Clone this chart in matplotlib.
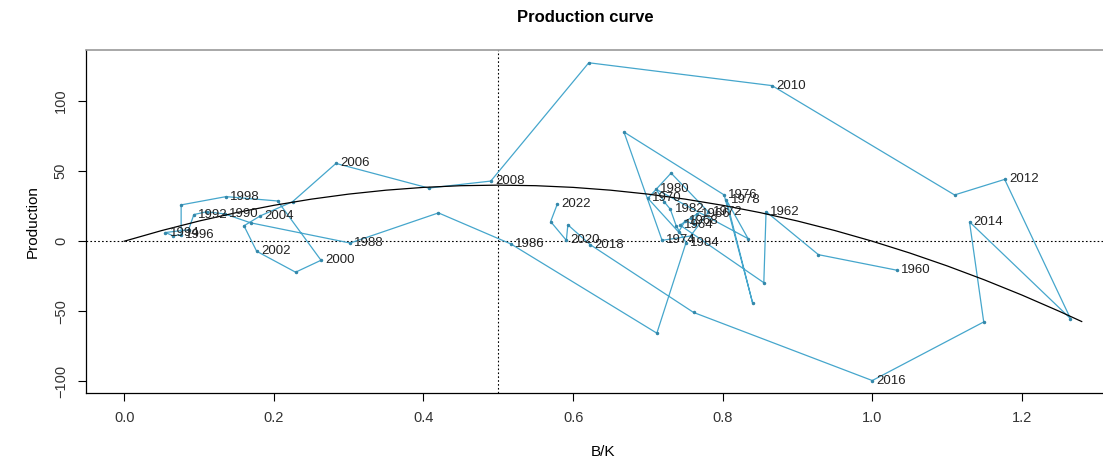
import matplotlib
matplotlib.use('Agg')
import matplotlib.pyplot as plt

plt.rcParams['font.family'] = ['Liberation Sans', 'DejaVu Sans']

years = list(range(1960, 2023))
bk = [1.033, 0.928, 0.858, 0.855, 0.743, 0.757, 0.766, 0.761, 0.750, 0.741,
      0.700, 0.731, 0.781, 0.757, 0.719, 0.668, 0.802, 0.840, 0.805, 0.834,
      0.711, 0.722, 0.730, 0.738, 0.751, 0.712, 0.517, 0.420, 0.302, 0.169,
      0.134, 0.110, 0.093, 0.086, 0.055, 0.065, 0.076, 0.076, 0.136, 0.205,
      0.263, 0.229, 0.177, 0.160, 0.182, 0.225, 0.283, 0.407, 0.490, 0.621,
      0.866, 1.110, 1.177, 1.265, 1.130, 1.149, 1.000, 0.761, 0.623, 0.593,
      0.591, 0.570, 0.579]
prod = [-20.7, -9.6, 21.1, -29.6, 11.5, 16.5, 19.5, 12.3, 14.5, 6.6,
        30.6, 48.6, 20.8, 3.7, 0.6, 77.9, 33.0, -44.0, 29.4, 1.8,
        37.0, 28.0, 22.8, 10.8, -1.1, -65.6, -2.0, 20.2, -1.3, 13.1,
        19.5, 21.0, 19.0, 8.2, 6.2, 3.9, 4.6, 25.9, 31.8, 28.7,
        -13.6, -22.1, -7.2, 11.0, 18.1, 28.2, 55.5, 37.9, 42.9, 127.3,
        111.0, 33.0, 44.1, -55.2, 13.8, -57.6, -99.4, -50.8, -2.5, 11.7,
        0.6, 14.0, 26.6]

curve_x = [0.00, 0.05, 0.10, 0.15, 0.20, 0.25, 0.30, 0.35, 0.40, 0.45,
           0.50, 0.55, 0.60, 0.65, 0.70, 0.75, 0.80, 0.85, 0.90, 0.95,
           1.00, 1.05, 1.10, 1.15, 1.20, 1.25, 1.28]
curve_y = [0.0, 7.6, 14.4, 20.4, 25.6, 30.0, 33.6, 36.4, 38.4, 39.6,
           40.0, 39.6, 38.4, 36.4, 33.6, 30.0, 25.6, 20.4, 14.4, 7.6,
           0.0, -8.4, -17.6, -27.6, -38.4, -50.0, -57.3]

W, H = 1103, 466
fig = plt.figure(figsize=(W / 100, H / 100), dpi=100)
left, right, top, bottom = 86, 1120, 50, 393.3
ax = fig.add_axes([left / W, (H - bottom) / H, (right - left) / W, (bottom - top) / H])

line_col = '#45a6cc'
ax.plot(bk, prod, color=line_col, lw=0.9, zorder=2)
ax.plot(bk, prod, 'o', color='#3488aa', ms=1.5, zorder=3)
ax.plot(curve_x, curve_y, color='black', lw=0.9, zorder=4)

ax.axhline(0, color='black', lw=0.8, ls=(0, (1.5, 2)), zorder=1)
ax.axvline(0.5, color='black', lw=0.8, ls=(0, (1.5, 2)), zorder=1)

# year labels on even years, to the right of the point
for yr, x, y in zip(years, bk, prod):
    if yr % 2 == 0:
        ax.annotate(str(yr), (x, y), xytext=(3, 0), textcoords='offset points',
                    ha='left', va='center', fontsize=9.5, color='#222222', zorder=5)

ax.set_xlim(-0.0512, 1.3312)
ax.set_ylim(-108.5, 136.4)
ax.set_xticks([0.0, 0.2, 0.4, 0.6, 0.8, 1.0, 1.2])
ax.set_xticklabels(['0.0', '0.2', '0.4', '0.6', '0.8', '1.0', '1.2'])
ax.set_yticks([-100, -50, 0, 50, 100])
ax.tick_params(direction='out', length=6, width=0.8, labelsize=10.5, pad=7,
               labelcolor='#333333')
for lab in ax.get_yticklabels():
    lab.set_rotation(90)
    lab.set_va('center')
for s in ['left', 'bottom', 'right']:
    ax.spines[s].set_linewidth(0.9)
ax.spines['top'].set_color('#999999')
ax.spines['top'].set_linewidth(1.2)

ax.set_xlabel('B/K', fontsize=11, labelpad=14)
ax.set_ylabel('Production', fontsize=11, labelpad=10)
fig.text(585 / W, 1 - 18 / H, 'Production curve', ha='center', va='center',
         fontsize=12, fontweight='bold')

fig.savefig('out.png', dpi=100)
